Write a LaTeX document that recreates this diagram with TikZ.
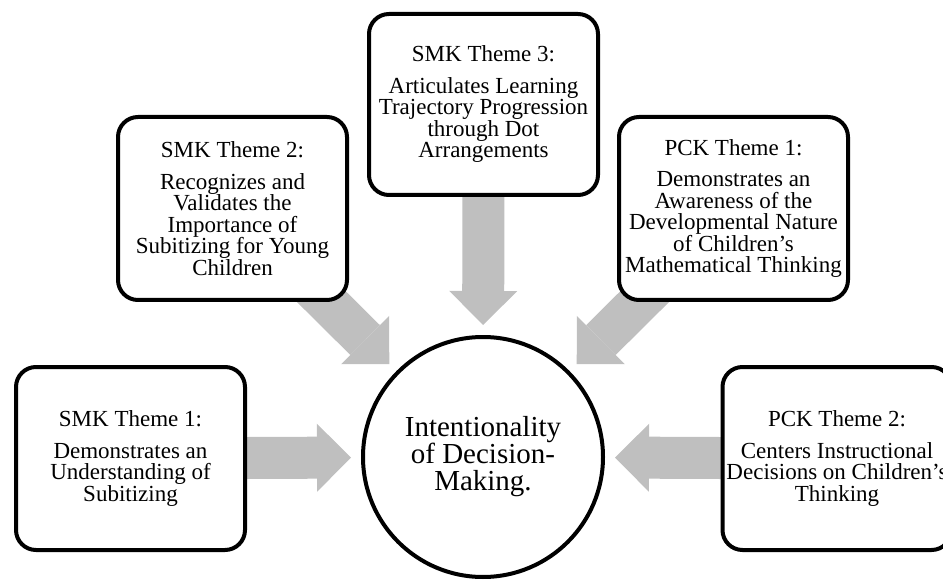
\documentclass[tikz,border=0pt]{standalone}
\usepackage{fontspec}
\setmainfont{Liberation Serif}
\usepackage{tikz}
\usetikzlibrary{shapes}
\usetikzlibrary{arrows.meta,backgrounds}

\tikzset{
  theme/.style={draw, line width=4pt, rounded corners=20pt, fill=white,
    minimum width=229pt, minimum height=183pt, inner sep=0pt,
    align=center, font=\fontsize{23}{21.5}\selectfont},
  hub/.style={draw, circle, line width=4pt, fill=white, minimum size=240pt,
    inner sep=0pt, align=center, font=\fontsize{29}{27}\selectfont},
  fat/.style={line width=42pt, black!25, shorten >=10pt,
    -{Triangle[length=34pt,width=68pt,line width=0pt]}}
}

\begin{document}
\begin{tikzpicture}[x=1pt,y=-1pt]
\useasboundingbox (0,0) rectangle (943,580);

\node[hub] (hub) at (483,457) {Intentionality\\of Decision-\\Making.};

% the five themes round the hub
\node[theme] (smk1) at (130.5,458.5) {SMK Theme 1:\\[10pt]Demonstrates an\\Understanding of\\Subitizing};
\node[theme] (smk2) at (232.5,208.5) {SMK Theme 2:\\[10pt]Recognizes and\\Validates the\\Importance of\\Subitizing for Young\\Children};
\node[theme, minimum height=181pt] (smk3) at (483.5,104.5) {SMK Theme 3:\\[10pt]Articulates Learning\\Trajectory Progression\\through Dot\\Arrangements};
\node[theme] (pck1) at (733.5,208.5) {PCK Theme 1:\\[10pt]Demonstrates an\\Awareness of the\\Developmental Nature\\of Children's\\Mathematical Thinking};
\node[theme] (pck2) at (837,458.5) {PCK Theme 2:\\[10pt]Centers Instructional\\Decisions on Children's\\Thinking};

% grey arrows, behind the boxes
\begin{scope}[on background layer]
\draw[fat] (smk1.center) -- (hub);
\draw[fat] (smk2.center) -- (hub);
\draw[fat] (smk3.center) -- (hub);
\draw[fat] (pck1.center) -- (hub);
\draw[fat] (pck2.center) -- (hub);
\end{scope}
\end{tikzpicture}
\end{document}
